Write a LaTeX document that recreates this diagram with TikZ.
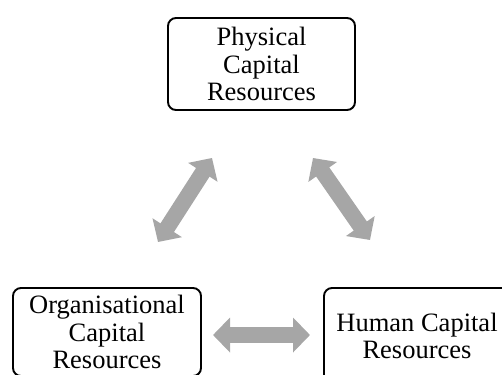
\documentclass[tikz,border=0pt]{standalone}
\usepackage{fontspec}
\setmainfont{Liberation Serif}
\usetikzlibrary{arrows.meta}
\definecolor{arrowgray}{RGB}{166,166,166}
\tikzset{
  resbox/.style={draw=black, line width=1.9bp, rounded corners=8bp, inner sep=0pt,
    align=center, font=\fontsize{26.5bp}{27.5bp}\selectfont},
  dblarrow/.style={draw=arrowgray, line width=16bp,
    {Triangle[width=34bp,length=17bp]}-{Triangle[width=34bp,length=17bp]}}
}
\begin{document}
\begin{tikzpicture}[x=1bp,y=-1bp]
\useasboundingbox (0,0) rectangle (502,374);
\clip (0,0) rectangle (502,374);
\node[resbox, minimum width=187bp, minimum height=92bp] (phys) at (261.5,64) {Physical\\Capital\\Resources};
\node[resbox, minimum width=188bp, minimum height=88bp] (org) at (107,332) {Organisational\\Capital\\Resources};
\node[resbox, minimum width=186bp, minimum height=96bp] (hum) at (417,336) {Human Capital\\Resources};
\coordinate (a1) at (158,242);
\coordinate (a2) at (212,158);
\coordinate (b1) at (313,158);
\coordinate (b2) at (370,240);
\coordinate (c1) at (213,335);
\coordinate (c2) at (310,335);
\draw[dblarrow] (a1) -- (a2);
\draw[dblarrow] (b1) -- (b2);
\draw[dblarrow] (c1) -- (c2);
\end{tikzpicture}
\end{document}
